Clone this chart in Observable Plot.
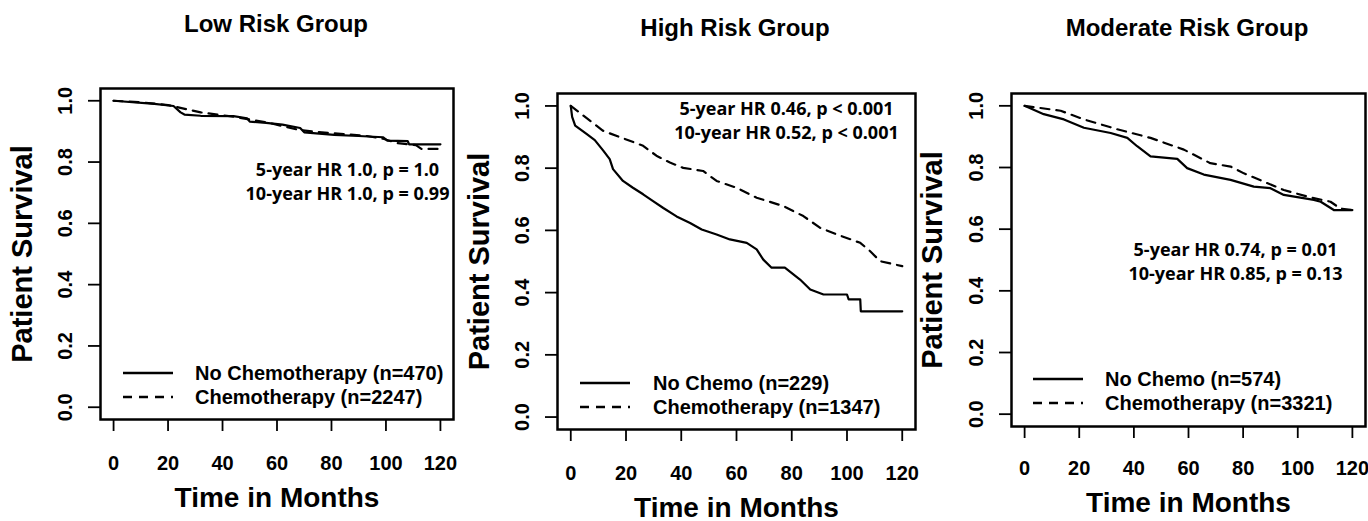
<!DOCTYPE html>
<html><head><meta charset="utf-8">
<script src="https://cdn.jsdelivr.net/npm/d3@7"></script>
<script src="https://cdn.jsdelivr.net/npm/@observablehq/plot@0.6"></script>
<style>
html,body{margin:0;padding:0;background:#fff}
body{width:1368px;height:521px;overflow:hidden;position:relative;font-family:"Liberation Sans",Arial,sans-serif;color:#000}
.title{position:absolute;font-weight:bold;font-size:24px;line-height:24px;white-space:nowrap;transform:translateX(-50%)}
.panel{position:absolute}
.legrow{position:absolute;height:24px;display:flex;align-items:center;font-weight:bold;font-size:20px;white-space:nowrap}
.legrow svg{display:block}
</style></head><body>
<script>
// ---- Data ----
const panelTitles = ["Low Risk Group", "High Risk Group", "Moderate Risk Group"];
const xTicks = [0, 20, 40, 60, 80, 100, 120];
const yTicks = [0, 0.2, 0.4, 0.6, 0.8, 1.0];
const xTitle = "Time in Months";
const yTitle = "Patient Survival";

const lowNoChemoT = [0, 15, 22, 24.6, 26, 32, 44, 49, 50, 56, 62, 68.5, 70, 81, 90, 99, 100.5, 108, 108.5, 120];
const lowNoChemoS = [1.0, 0.99, 0.983, 0.962, 0.955, 0.951, 0.95, 0.943, 0.932, 0.928, 0.922, 0.911, 0.897, 0.889, 0.885, 0.881, 0.87, 0.868, 0.858, 0.858];
const lowChemoT = [0, 10, 20, 32, 44, 50, 56, 68, 75, 93, 99, 104, 111, 113, 120];
const lowChemoS = [1.0, 0.995, 0.986, 0.962, 0.948, 0.939, 0.93, 0.905, 0.898, 0.885, 0.876, 0.862, 0.855, 0.843, 0.843];

const highNoChemoT = [0, 0.5, 1.6, 5.7, 8.7, 11.7, 14.1, 15.3, 18.9, 22.5, 26.2, 29.8, 33.5, 38.3, 43.2, 47.4, 52.8, 57.6, 63.7, 67.3, 69.7, 72.7, 77.5, 83, 86.7, 91.5, 100, 100.6, 104.8, 105, 120];
const highNoChemoS = [1.0, 0.965, 0.937, 0.91, 0.89, 0.857, 0.829, 0.797, 0.759, 0.737, 0.716, 0.694, 0.672, 0.645, 0.624, 0.603, 0.587, 0.571, 0.56, 0.539, 0.506, 0.48, 0.48, 0.442, 0.41, 0.394, 0.394, 0.378, 0.378, 0.34, 0.34];
const highChemoT = [0, 11.7, 26.2, 31, 35.9, 40.7, 47.9, 52.8, 60, 67.3, 77, 84.2, 90.3, 96.3, 104.8, 108.4, 112, 120];
const highChemoS = [1.0, 0.92, 0.872, 0.84, 0.818, 0.801, 0.791, 0.759, 0.737, 0.705, 0.678, 0.646, 0.608, 0.587, 0.56, 0.533, 0.501, 0.485];

const modNoChemoT = [0, 7, 14.4, 21.7, 31.5, 37.6, 41.2, 46.1, 55.9, 59.5, 65.6, 75.4, 83.9, 90, 94.9, 105.9, 108.4, 113.2, 120];
const modNoChemoS = [1.0, 0.973, 0.956, 0.929, 0.912, 0.896, 0.869, 0.836, 0.828, 0.798, 0.777, 0.76, 0.738, 0.733, 0.711, 0.695, 0.689, 0.662, 0.662];
const modChemoT = [0, 13.2, 21.7, 33.9, 46.1, 58.3, 68, 75.4, 80.3, 87.6, 94.9, 104.6, 112, 115.6, 120];
const modChemoS = [1.0, 0.984, 0.956, 0.924, 0.896, 0.858, 0.814, 0.803, 0.781, 0.754, 0.727, 0.703, 0.689, 0.667, 0.662];

const legendLabels = [
  ["No Chemotherapy (n=470)", "Chemotherapy (n=2247)"],
  ["No Chemo (n=229)", "Chemotherapy (n=1347)"],
  ["No Chemo (n=574)", "Chemotherapy (n=3321)"]
];
const annotations = [
  "5-year HR 1.0, p = 1.0\n10-year HR 1.0, p = 0.99",
  "5-year HR 0.46, p < 0.001\n10-year HR 0.52, p < 0.001",
  "5-year HR 0.74, p = 0.01\n10-year HR 0.85, p = 0.13"
];

// ---- Layout (pixels) ----
const layout = [
  {left: 0, top: 45, w: 460, h: 476, ml: 100, mr: 7, mt: 43, mb: 102, titleX: 276, titleTop: 12, xPad: 24, xTitleDy: 79, yTitleDx: -78, annDx: 247, annDy: 92,
   legLineX: 123, legTextX: 195, legY: [373, 397]},
  {left: 460, top: 48, w: 457, h: 473, ml: 97, mr: 2, mt: 45, mb: 92, titleX: 735, titleTop: 16, xPad: 24, xTitleDy: 79, yTitleDx: -78, annDx: 229, annDy: 26,
   legLineX: 580, legTextX: 653, legY: [383, 407]},
  {left: 917, top: 48, w: 451, h: 473, ml: 94, mr: 3, mt: 45, mb: 95, titleX: 1187, titleTop: 16, xPad: 22, xTitleDy: 77, yTitleDx: -79, annDx: 224, annDy: 167,
   legLineX: 1033, legTextX: 1105, legY: [379, 403]}
];

const series = [
  [[lowNoChemoT, lowNoChemoS], [lowChemoT, lowChemoS]],
  [[highNoChemoT, highNoChemoS], [highChemoT, highChemoS]],
  [[modNoChemoT, modNoChemoS], [modChemoT, modChemoS]]
];

const zip = (T, S) => T.map((t, i) => ({t, s: S[i]}));
const DASH = "9,7";

layout.forEach((L, i) => {
  const title = document.createElement("div");
  title.className = "title";
  title.style.left = L.titleX + "px";
  title.style.top = L.titleTop + "px";
  title.textContent = panelTitles[i];
  document.body.appendChild(title);

  const noChemo = zip(...series[i][0]);
  const chemo = zip(...series[i][1]);

  const chart = Plot.plot({
    width: L.w, height: L.h,
    marginLeft: L.ml, marginRight: L.mr, marginTop: L.mt, marginBottom: L.mb,
    style: {background: "transparent", overflow: "visible", fontFamily: "'Liberation Sans', Arial, sans-serif", color: "#000"},
    x: {domain: [-4.8, 124.8]},
    y: {domain: [-0.04, 1.04]},
    marks: [
      Plot.axisX({ticks: xTicks, tickSize: 12, tickPadding: L.xPad, fontSize: 20, fontWeight: "bold", label: null, tickFormat: d => String(d), strokeWidth: 1.8}),
      Plot.axisY({ticks: yTicks, tickSize: 12, tickPadding: 17, tickRotate: -90, fontSize: 20, fontWeight: "bold", label: null, tickFormat: d => d.toFixed(1), strokeWidth: 1.8}),
      Plot.line(noChemo, {x: "t", y: "s", stroke: "#000", strokeWidth: 2.2}),
      Plot.line(chemo, {x: "t", y: "s", stroke: "#000", strokeWidth: 2.2, strokeDasharray: DASH}),
      Plot.frame({stroke: "#000", strokeWidth: 2.5}),
      Plot.text([xTitle], {text: d => d, frameAnchor: "bottom", dy: L.xTitleDy, lineAnchor: "middle", textAnchor: "middle", fontSize: 28, fontWeight: "bold"}),
      Plot.text([yTitle], {text: d => d, frameAnchor: "left", dx: L.yTitleDx, rotate: -90, lineAnchor: "middle", textAnchor: "middle", fontSize: 29, fontWeight: "bold"}),
      Plot.text([annotations[i]], {text: d => d, frameAnchor: "top-left", dx: L.annDx, dy: L.annDy, textAnchor: "middle", lineAnchor: "middle", lineHeight: 1.333, fontSize: 18, fontWeight: "bold", fontFamily: "'Open Sans', sans-serif"})
    ]
  });
  const wrap = document.createElement("div");
  wrap.className = "panel";
  wrap.style.left = L.left + "px";
  wrap.style.top = L.top + "px";
  wrap.appendChild(chart);
  document.body.appendChild(wrap);

  legendLabels[i].forEach((lab, j) => {
    const row = document.createElement("div");
    row.className = "legrow";
    row.style.left = L.legLineX + "px";
    row.style.top = (L.legY[j] - 12) + "px";
    const ns = "http://www.w3.org/2000/svg";
    const s = document.createElementNS(ns, "svg");
    s.setAttribute("width", 50); s.setAttribute("height", 6);
    const ln = document.createElementNS(ns, "line");
    ln.setAttribute("x1", 0); ln.setAttribute("x2", 50); ln.setAttribute("y1", 3); ln.setAttribute("y2", 3);
    ln.setAttribute("stroke", "#000"); ln.setAttribute("stroke-width", 2.5);
    if (j === 1) ln.setAttribute("stroke-dasharray", DASH);
    s.appendChild(ln);
    row.appendChild(s);
    const sp = document.createElement("span");
    sp.style.marginLeft = (L.legTextX - L.legLineX - 50) + "px";
    sp.textContent = lab;
    row.appendChild(sp);
    document.body.appendChild(row);
  });
});
</script>
</body></html>
